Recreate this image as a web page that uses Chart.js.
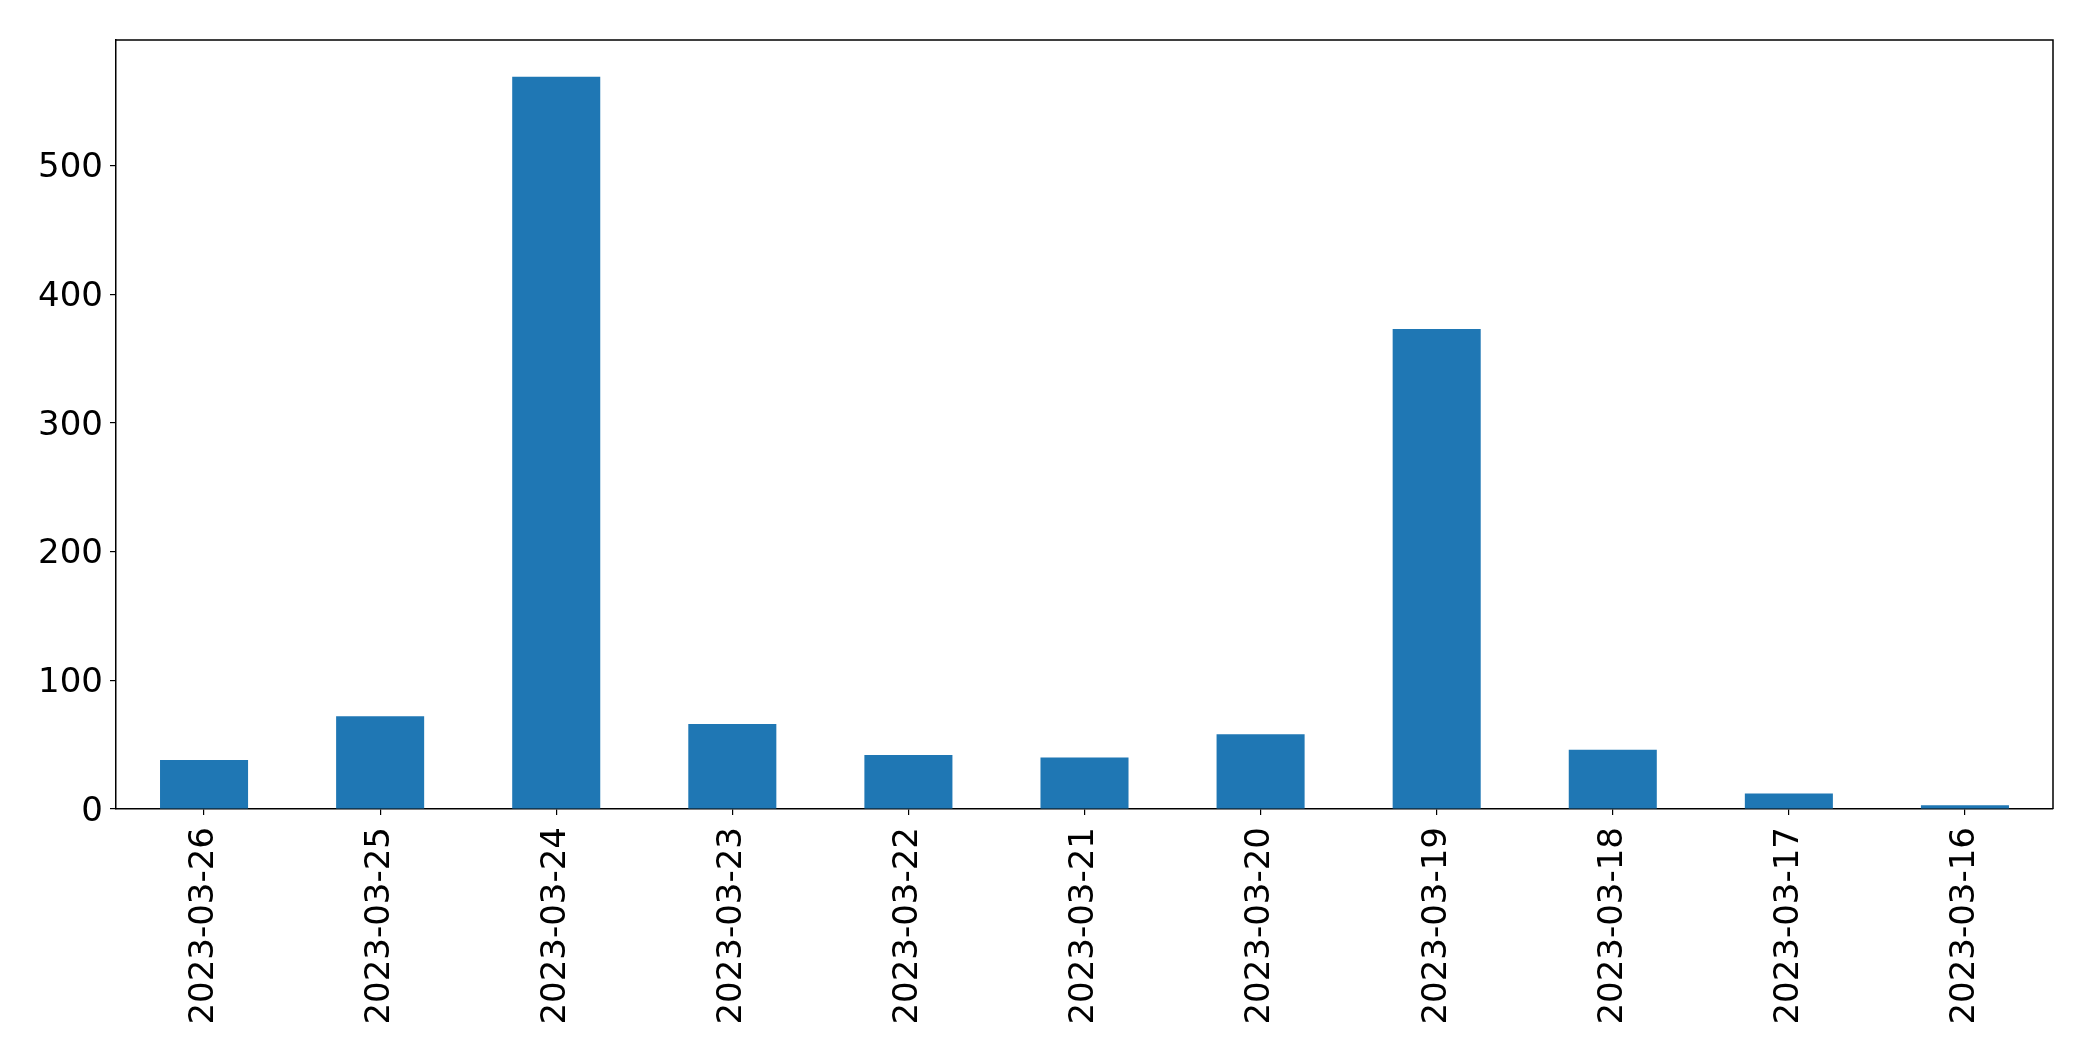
<!DOCTYPE html>
<html>
<head>
<meta charset="utf-8">
<script src="https://cdn.jsdelivr.net/npm/chart.js@4/dist/chart.umd.min.js"></script>
<style>
    html, body { margin: 0; padding: 0; background: #fff; }
    #wrap { width: 2093px; height: 1061px; }
</style>
</head>
<body>
<div id="wrap"><canvas id="chart" width="2093" height="1061"></canvas></div>
<script>
// data
const dates = ['2023-03-26', '2023-03-25', '2023-03-24', '2023-03-23', '2023-03-22', '2023-03-21',
               '2023-03-20', '2023-03-19', '2023-03-18', '2023-03-17', '2023-03-16'];
const counts = [38, 72, 569, 66, 42, 40, 58, 373, 46, 12, 3];
const yTicks = [0, 100, 200, 300, 400, 500];

// top + right spines like matplotlib
const frame = {
    id: 'frame',
    afterDraw(chart) {
        const { ctx, chartArea: a } = chart;
        ctx.save();
        ctx.strokeStyle = '#000';
        ctx.lineWidth = 1.5;
        ctx.beginPath();
        ctx.moveTo(a.left, a.top);
        ctx.lineTo(a.right, a.top);
        ctx.lineTo(a.right, a.bottom);
        ctx.stroke();
        ctx.restore();
    }
};

const font = { family: '"DejaVu Sans", sans-serif', size: 34 };

new Chart(document.getElementById('chart').getContext('2d'), {
    type: 'bar',
    data: {
        labels: dates,
        datasets: [{
            data: counts,
            backgroundColor: '#1f77b4',
            borderWidth: 0,
            categoryPercentage: 1.0,
            barPercentage: 0.5
        }]
    },
    options: {
        responsive: false,
        animation: false,
        layout: { padding: { left: 0, right: 40, top: 40, bottom: 0 } },
        plugins: { legend: { display: false }, tooltip: { enabled: false } },
        scales: {
            x: {
                offset: true,
                grid: { offset: false, drawOnChartArea: false, drawTicks: true, tickLength: 6, color: '#000', lineWidth: 1.2 },
                border: { display: true, color: '#000', width: 1.5 },
                ticks: { color: '#000', font: font, minRotation: 90, maxRotation: 90, padding: 12, autoSkip: false },
                afterFit(scale) { scale.height = 252; }
            },
            y: {
                min: 0,
                max: 597.5,
                grid: { drawOnChartArea: false, drawTicks: true, tickLength: 6, color: '#000', lineWidth: 1.2 },
                border: { display: true, color: '#000', width: 1.5 },
                ticks: { color: '#000', font: font, padding: 7, labelOffset: 3 },
                afterBuildTicks(scale) { scale.ticks = yTicks.map(v => ({ value: v })); },
                afterFit(scale) { scale.width = 116; }
            }
        }
    },
    plugins: [frame]
});
</script>
</body>
</html>
